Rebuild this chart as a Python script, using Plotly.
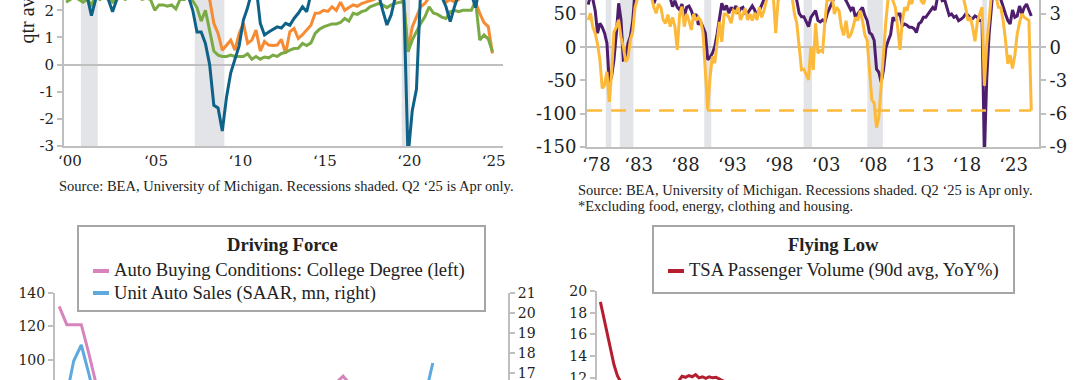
import numpy as np
import plotly.graph_objects as go

FONT = "Liberation Serif"
NUMFONT = "DejaVu Serif"
TXT = "#222222"
AX = "#BFBFBF"

# ---------------- Top-left panel: quarterly from 2000Q1 ----------------
tl_start = 2000
tl_blue = [3.0, 3.2, 3.1, 2.8, 2.7, 2.5, 1.8, 2.4, 2.6, 2.5, 2.4, 1.95,
           2.4, 2.6, 2.8, 2.9, 3.0, 2.9, 2.8, 3.0, 2.9, 2.6, 2.5, 2.7,
           2.7, 2.5, 2.6, 2.8, 2.7, 2.5, 2.0, 1.2, 1.2, 0.78, 0.0, -1.5,
           -1.6, -2.45, -1.2, -0.3, 0.25, 0.7, 1.64, 2.1, 2.7, 2.9, 1.52, 1.09,
           1.2, 1.3, 1.39, 1.35, 1.52, 1.45, 1.7, 1.89, 2.13, 1.95, 2.6, 2.8,
           2.8, 2.9, 3.0, 2.8, 2.7, 2.9, 3.0, 2.8, 2.9, 3.1, 3.0, 2.8,
           2.7, 2.9, 2.6, 2.0, 1.46, 1.83, 2.5, 2.6, 2.4, -3.4, -1.7, -0.9,
           2.8, 3.2, 3.0, 2.9, 2.7, 2.5, 2.13, 1.58, 2.13, 2.6, 2.8, 2.7,
           2.6, 2.1, 2.9, 3.0]
tl_orange = [3.1, 3.3, 3.2, 3.0, 2.8, 2.9, 2.7, 2.8, 2.9, 3.0, 2.9, 2.8,
             2.9, 3.0, 3.1, 3.2, 3.1, 3.0, 3.2, 3.1, 3.0, 2.8, 2.9, 2.9,
             2.8, 2.9, 2.9, 3.0, 3.0, 3.1, 2.9, 2.8, 2.9, 2.7, 2.4, 1.52,
             1.15, 0.53, 0.7, 0.9, 0.53, 1.15, 1.52, 0.78, 0.9, 1.27, 0.5, 0.85,
             0.72, 0.7, 0.72, 0.93, 0.41, 1.21, 1.33, 0.96, 1.1, 1.27, 1.45, 1.89,
             1.9, 2.0, 1.96, 2.13, 2.0, 2.3, 2.0, 2.1, 2.2, 2.15, 2.25, 2.3,
             2.35, 2.4, 2.5, 2.6, 2.6, 2.5, 2.4, 2.5, 2.3, 0.53, 1.39, 1.76,
             2.13, 2.25, 2.5, 2.7, 2.6, 2.5, 2.3, 2.4, 2.3, 2.4, 2.5, 2.6,
             2.6, 2.3, 1.89, 1.55, 1.4, 0.41]
tl_green = [2.3, 2.4, 2.5, 2.4, 2.3, 2.4, 2.2, 2.5, 2.4, 2.6, 2.5, 2.3,
            2.4, 2.5, 2.4, 2.5, 2.6, 2.5, 2.4, 2.45, 2.4, 2.0, 2.2, 2.2,
            2.15, 2.2, 2.05, 2.4, 2.4, 2.5, 2.35, 2.1, 1.6, 2.0, 1.3, 0.5,
            0.35, 0.3, 0.3, 0.35, 0.3, 0.3, 0.3, 0.4, 0.2, 0.3, 0.2, 0.28,
            0.25, 0.35, 0.3, 0.41, 0.45, 0.53, 0.59, 0.6, 0.78, 0.7, 0.8, 1.15,
            1.3, 1.39, 1.45, 1.5, 1.5, 1.55, 1.7, 1.6, 1.89, 1.85, 1.95, 2.0,
            2.13, 2.2, 2.25, 2.2, 2.1, 2.2, 2.25, 2.3, 2.3, 0.47, 0.9, 1.2,
            1.52, 1.76, 2.13, 1.9, 1.85, 1.75, 1.7, 1.95, 2.0, 1.95, 2.0, 2.0,
            2.0, 2.35, 0.9, 1.09, 0.95, 0.47]
tl_recessions = [(2001.0, 2002.0), (2007.75, 2009.5), (2020.0, 2020.5)]
tl_tick_years = [2000, 2005, 2010, 2015, 2020, 2025]
tl_tick_labels = ["\u201800", "\u201805", "\u201810", "\u201815", "\u201820", "\u201825"]
tl_y_ticks = [-3, -2, -1, 0, 1, 2]
tl_y_labels = ["-3", "-2", "-1", "0", "1", "2"]

# ---------------- Top-right panel: quarterly from 1978Q1 ----------------
tr_start = 1978
tr_purple = [64, 78, 72, 55, 21, 36, 30, 21, 6, -54, -44, -19, 20, 66, 41, -19,
             -17, 6, 16, 40, 85, 95, 90, 88, 90, 85, 80, 78, 66, 75, 80, 72,
             78, 80, 85, 74, 61, 70, 60, 56, 65, 46, 60, 62, 55, 44, 50, 34,
             38, 30, 21, -19, -15, -9, 1, 20, 41, 66, 56, 63, 51, 60, 55, 62,
             51, 58, 60, 51, 51, 56, 62, 56, 46, 55, 63, 70, 80, 75, 85, 90,
             85, 90, 88, 92, 95, 85, 90, 88, 80, 70, 51, 46, 46, 38, 31, 45,
             51, 55, 40, 38, 41, 38, 51, 60, 66, 75, 80, 72, 80, 76, 70, 62,
             56, 60, 45, 50, 55, 60, 48, 40, 22, 19, 10, -33, -38, -53, -33, -1,
             10, 19, 45, 40, 50, 50, 32, 35, 33, 30, 30, 28, 22, 35, 38, 45,
             45, 50, 56, 60, 56, 75, 80, 70, 72, 60, 48, 50, 45, 47, 40, 42,
             45, 50, 48, 44, 43, 47, 45, 40, 40, -160, -48, 19, 80, 100, 85, 75,
             72, 60, 50, 40, 35, 56, 45, 47, 62, 50, 60, 65, 55, 47]
tr_yellow = [2.46, 3.06, 1.8, 1.26, 0.3, -1.14, -3.72, -3.42, -2.22, -4.92, -2.34, 1.38,
             1.8, 2.46, 0.9, 0.06, -1.32, -0.96, 0.66, 1.38, 3.6, 4.5, 5.1, 4.8,
             5.4, 4.8, 5.1, 4.5, 3.6, 3.06, 3.9, 3.6, 2.46, 2.16, 2.94, 1.86,
             2.7, 1.86, -0.24, 2.94, 3.66, 1.86, 3.0, 2.4, 1.56, 3.0, 2.4, 2.7,
             2.4, 1.26, -1.74, -5.64, -2.64, -0.84, -1.44, 0.48, 2.28, 0.48, 3.0, 3.0,
             2.7, 2.16, 3.3, 3.12, 3.6, 2.46, 3.0, 3.48, 2.46, 3.0, 2.4, 3.12,
             2.46, 3.6, 2.7, 3.3, 4.2, 4.8, 5.1, 4.5, 1.26, 4.2, 4.5, 4.8,
             5.1, 4.8, 4.68, 4.5, 3.0, 2.16, 0.06, -2.04, -1.98, -2.4, -2.94, 0.06,
             -2.04, 2.16, -0.54, -0.3, -0.42, 2.4, 4.5, 4.2, 4.8, 3.0, 3.6, 3.3,
             1.8, 1.08, 2.4, 0.84, 1.14, 1.8, 2.7, 2.4, 3.3, 2.4, 1.14, 0.6,
             -1.98, -4.74, -5.04, -7.26, -6.3, -3.48, 0.24, 2.4, 4.5, 4.8, 4.2, 3.6,
             1.8, -0.24, 2.4, 3.6, 3.3, 4.2, 3.9, 4.8, 4.5, 5.1, 4.2, 3.9,
             4.5, 4.8, 5.1, 5.4, 5.7, 5.4, 5.1, 4.8, 4.5, 4.8, 5.1, 4.8,
             5.1, 4.8, 4.5, 4.8, 4.5, 3.6, 2.4, 2.7, 1.8, 0.54, 2.28, 3.0,
             3.6, -3.48, 0.24, 2.4, 4.8, 5.4, 4.5, 3.6, 3.6, 2.4, 0.66, -1.5,
             -0.72, -1.92, -0.72, 1.2, 2.22, 3.0, 2.7, 2.52, 2.4, -5.7]
tr_recessions = [(1980.0, 1980.6), (1981.5, 1982.95), (1990.5, 1991.25),
                 (2001.1, 2002.0), (2007.9, 2009.55), (2020.15, 2020.65)]
tr_tick_years = [1978, 1983, 1988, 1993, 1998, 2003, 2008, 2013, 2018, 2023]
tr_tick_labels = ["\u201878", "\u201883", "\u201888", "\u201893", "\u201898",
                  "\u201803", "\u201808", "\u201813", "\u201818", "\u201823"]
tr_left_ticks = [-150, -100, -50, 0, 50]
tr_left_labels = ["-150", "-100", "-50", "0", "50"]
tr_right_ticks = [-9, -6, -3, 0, 3]
tr_right_labels = ["-9", "-6", "-3", "0", "3"]

# ---------------- Bottom-left panel: monthly from Jan 2021 ----------------
bl_start = "2021-01"
bl_pink = [132, 121, 121, 121, 104, 85, 80, 70, 72, 68, 65, 62,
           60, 58, 55, 50, 48, 45, 50, 55, 58, 60, 62, 65,
           68, 70, 72, 70, 68, 72, 75, 78, 76, 74, 78, 80,
           84, 86, 90, 84, 80, 82, 84, 86, 84, 82, 80, 78,
           75, 70, 62, 55]
bl_blue = [16.4, 15.9, 17.6, 18.4, 17.0, 15.4, 14.8, 13.1, 12.2, 13.0, 12.9, 12.4,
           15.0, 14.1, 13.3, 14.3, 12.7, 13.0, 13.3, 13.2, 13.5, 14.9, 14.1, 13.4,
           15.7, 14.9, 14.8, 16.0, 15.1, 15.7, 15.7, 15.0, 15.5, 15.5, 15.3, 15.8,
           15.0, 15.7, 15.4, 15.7, 15.8, 15.3, 15.8, 15.1, 15.8, 16.0, 16.3, 16.5,
           15.6, 16.0, 17.5]
bl_left_ticks = [100, 120, 140]
bl_right_ticks = [17, 18, 19, 20, 21]

# ---------------- Bottom-right panel: TSA (weekly points) ----------------
br_dates = ["2023-01-08", "2023-01-15", "2023-01-22", "2023-01-29", "2023-02-05",
            "2023-02-12", "2023-02-19", "2023-03-05", "2023-04-01", "2023-05-01",
            "2023-06-01", "2023-06-18", "2023-06-25", "2023-07-02", "2023-07-09",
            "2023-07-16", "2023-07-23", "2023-07-30", "2023-08-06", "2023-08-13",
            "2023-08-20", "2023-08-27", "2023-09-03", "2023-09-10", "2023-09-17",
            "2023-10-01", "2023-11-01", "2023-12-01", "2024-02-01", "2024-05-01",
            "2024-08-01", "2024-11-01", "2025-02-01", "2025-05-01"]
br_tsa = [19.0, 17.6, 16.2, 14.6, 13.2, 12.2, 11.6, 10.8, 10.5, 10.9,
          11.4, 11.7, 12.15, 12.05, 12.2, 12.1, 12.3, 12.0, 12.1, 11.95,
          12.1, 12.0, 12.05, 11.9, 11.8, 11.4, 10.5, 9.0, 7.0, 5.5,
          5.0, 4.0, 2.0, -1.0]
br_y_ticks = [12, 14, 16, 18, 20]


def qpos(start, n):
    return start + np.arange(n) / 4.0 + 0.125


def mpos(start, n):
    return (np.datetime64(start, "M") + np.arange(n)).astype("datetime64[D]").astype(str)


W, H = 1080, 380


def px(x):
    return x / W


def py(y):
    return 1 - y / H


fig = go.Figure()

# top-left
fig.add_trace(go.Scatter(x=qpos(tl_start, len(tl_orange)), y=tl_orange, mode="lines",
                         line=dict(color="#F68B33", width=3), xaxis="x", yaxis="y", showlegend=False))
fig.add_trace(go.Scatter(x=qpos(tl_start, len(tl_green)), y=tl_green, mode="lines",
                         line=dict(color="#7AAA43", width=3), xaxis="x", yaxis="y", showlegend=False))
fig.add_trace(go.Scatter(x=qpos(tl_start, len(tl_blue)), y=tl_blue, mode="lines",
                         line=dict(color="#0F6287", width=3), xaxis="x", yaxis="y", showlegend=False))

# top-right
t_ty = qpos(tr_start, len(tr_yellow))
fig.add_trace(go.Scatter(x=[tr_start, t_ty[-1]], y=[tr_yellow[-1], tr_yellow[-1]], mode="lines",
                         line=dict(color="#FDB93A", width=2.5, dash="15px,9px"),
                         xaxis="x2", yaxis="y3", showlegend=False))
fig.add_trace(go.Scatter(x=t_ty, y=tr_yellow, mode="lines", line=dict(color="#FDB93A", width=3),
                         xaxis="x2", yaxis="y3", showlegend=False))
fig.add_trace(go.Scatter(x=qpos(tr_start, len(tr_purple)), y=tr_purple, mode="lines",
                         line=dict(color="#4E1E6C", width=3), xaxis="x2", yaxis="y2", showlegend=False))

# bottom-left
fig.add_trace(go.Scatter(x=mpos(bl_start, len(bl_pink)), y=bl_pink, mode="lines",
                         line=dict(color="#D784BD", width=3), xaxis="x4", yaxis="y4", showlegend=False))
fig.add_trace(go.Scatter(x=mpos(bl_start, len(bl_blue)), y=bl_blue, mode="lines",
                         line=dict(color="#5EA9DE", width=3), xaxis="x4", yaxis="y5", showlegend=False))

# bottom-right
fig.add_trace(go.Scatter(x=br_dates, y=br_tsa, mode="lines", line=dict(color="#B41F2F", width=3),
                         xaxis="x6", yaxis="y6", showlegend=False))

shapes = []
for a, b in tl_recessions:
    shapes.append(dict(type="rect", xref="x", yref="y domain", x0=a, x1=b, y0=0, y1=1,
                       fillcolor="#E2E4E7", line=dict(width=0), layer="below"))
for a, b in tr_recessions:
    shapes.append(dict(type="rect", xref="x2", yref="y2 domain", x0=a, x1=b, y0=0, y1=1,
                       fillcolor="#E2E4E7", line=dict(width=0), layer="below"))

# legend boxes (bottom panels)
shapes.append(dict(type="rect", xref="paper", yref="paper", x0=px(78), x1=px(485), y0=py(311), y1=py(226),
                   line=dict(color="#A6A6A6", width=2), fillcolor="white", layer="above"))
shapes.append(dict(type="rect", xref="paper", yref="paper", x0=px(653), x1=px(1014), y0=py(293), y1=py(226),
                   line=dict(color="#A6A6A6", width=2), fillcolor="white", layer="above"))
shapes.append(dict(type="line", xref="paper", yref="paper", x0=px(93), x1=px(109), y0=py(271), y1=py(271),
                   line=dict(color="#D784BD", width=4), layer="above"))
shapes.append(dict(type="line", xref="paper", yref="paper", x0=px(93), x1=px(109), y0=py(293), y1=py(293),
                   line=dict(color="#5EA9DE", width=4), layer="above"))
shapes.append(dict(type="line", xref="paper", yref="paper", x0=px(668), x1=px(684), y0=py(271), y1=py(271),
                   line=dict(color="#B41F2F", width=4), layer="above"))

ann = []


def text(x, y, s, size, xanchor="left", bold=False, angle=0, yanchor="middle", family=FONT):
    ann.append(dict(xref="paper", yref="paper", x=px(x), y=py(y), text=("<b>%s</b>" % s) if bold else s,
                    showarrow=False, xanchor=xanchor, yanchor=yanchor, textangle=angle,
                    font=dict(family=family, size=size, color=TXT)))


text(57, 186, "Source: BEA, University of Michigan. Recessions shaded. Q2 \u201825 is Apr only.", 14.5)
text(576, 190, "Source: BEA, University of Michigan. Recessions shaded. Q2 \u201825 is Apr only.", 14.5)
text(576, 206, "*Excluding food, energy, clothing and housing.", 14.5)
text(27, 46, "qtr avg, YoY %", 20, xanchor="center", angle=-90, yanchor="bottom")

text(282, 244, "Driving Force", 18.6, xanchor="center", bold=True)
text(112, 270, "Auto Buying Conditions: College Degree (left)", 18.6)
text(112, 293, "Unit Auto Sales (SAAR, mn, right)", 18.6)
text(833, 244, "Flying Low", 18.6, xanchor="center", bold=True)
text(687, 270, "TSA Passenger Volume (90d avg, YoY%)", 18.6)

tick_font_tl = dict(family=NUMFONT, size=15, color=TXT)
tick_font_tr = dict(family=NUMFONT, size=18, color=TXT)
tick_font_b = dict(family=NUMFONT, size=14, color=TXT)

common_y = dict(showgrid=False, showline=True, linecolor=AX, linewidth=2, ticks="outside",
                ticklen=5, tickcolor=AX, tickwidth=1.5, automargin=False, ticklabeloverflow="allow")
common_x = dict(showgrid=False, zeroline=False, automargin=False, ticklabeloverflow="allow")

fig.update_layout(
    width=W, height=H, margin=dict(l=0, r=0, t=0, b=0, pad=0, autoexpand=False),
    paper_bgcolor="white", plot_bgcolor="rgba(0,0,0,0)",
    font=dict(family=FONT, color=TXT),
    shapes=shapes, annotations=ann,
    xaxis=dict(domain=[px(64), px(503)], range=[2000.0, 2026.0], anchor="y",
               showline=True, linecolor=AX, linewidth=2, ticks="",
               tickvals=[y + (0.35 if y == 2000 else 0.45) for y in tl_tick_years],
               ticktext=tl_tick_labels, tickfont=tick_font_tl, **common_x),
    yaxis=dict(domain=[py(146), 1], range=[-3, 2.38], anchor="x", tickvals=tl_y_ticks,
               ticktext=tl_y_labels, zeroline=True, zerolinecolor=AX, zerolinewidth=2,
               tickfont=tick_font_tl, **common_y),
    xaxis2=dict(domain=[px(587), px(1039)], range=[1978.0, 2026.2], anchor="y2",
                showline=True, linecolor=AX, linewidth=2, ticks="",
                tickvals=[y + (1.0 if y == 1978 else 0.5) for y in tr_tick_years],
                ticktext=tr_tick_labels, tickfont=tick_font_tr, **common_x),
    yaxis2=dict(domain=[py(147), 1], range=[-150, 71], anchor="x2", tickvals=tr_left_ticks,
                ticktext=tr_left_labels, zeroline=True, zerolinecolor=AX, zerolinewidth=2,
                tickfont=tick_font_tr, **common_y),
    yaxis3=dict(range=[-9, 4.26], anchor="x2", overlaying="y2", side="right", tickvals=tr_right_ticks,
                ticktext=tr_right_labels, zeroline=False, tickfont=tick_font_tr, **common_y),
    xaxis4=dict(domain=[px(55), px(508)], range=["2020-12-15", "2026-01-01"], anchor="y4",
                showline=False, showticklabels=False, ticks="", **common_x),
    yaxis4=dict(domain=[0, 87 / H], range=[87.75, 140], anchor="x4", tickvals=bl_left_ticks,
                zeroline=False, tickfont=tick_font_b, **common_y),
    yaxis5=dict(range=[16.65, 21], anchor="x4", overlaying="y4", side="right", tickvals=bl_right_ticks,
                zeroline=False, tickfont=tick_font_b, **common_y),
    xaxis6=dict(domain=[px(597), px(1040)], range=["2023-01-01", "2025-07-01"], anchor="y6",
                showline=False, showticklabels=False, ticks="", **common_x),
    yaxis6=dict(domain=[0, 89 / H], range=[11.8, 20], anchor="x6", tickvals=br_y_ticks,
                zeroline=False, tickfont=tick_font_b, **common_y),
)

fig.write_html("out.html", config={"displayModeBar": False},
               post_script="document.body.style.margin='0px';document.body.style.overflow='hidden';")
